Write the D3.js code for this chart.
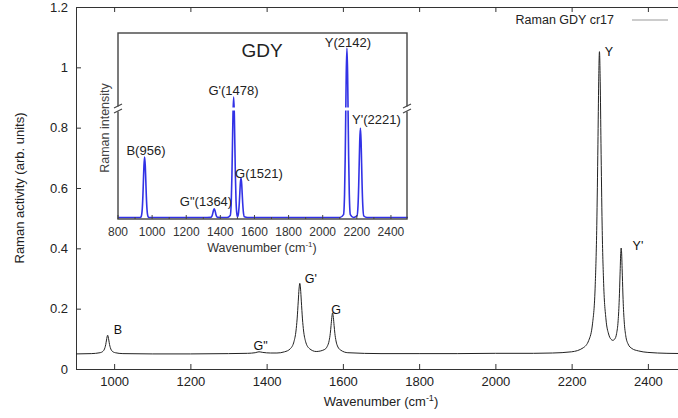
<!DOCTYPE html>
<html>
<head>
<meta charset="utf-8">
<script src="https://cdn.jsdelivr.net/npm/d3@7"></script>
<style>
  body { margin: 0; background: #fff; }
  svg { display: block; font-family: "Liberation Sans", Arial, sans-serif; }
</style>
</head>
<body>
<div id="chart"></div>
<script>
// main spectrum: [wavenumber, activity]
var mainSpectrum = [
    [900,0.050],[940,0.051],[963,0.054],[971,0.059],[976,0.071],[978,0.081],[980,0.096],[983,0.112],
    [986,0.096],[988,0.081],[990,0.071],[995,0.059],[1003,0.054],[1023,0.051],[1100,0.050],[1200,0.050],
    [1300,0.051],[1350,0.052],[1370,0.054],[1380,0.057],[1390,0.055],[1410,0.053],[1427,0.053],[1447,0.057],
    [1462,0.067],[1472,0.092],[1477,0.126],[1480,0.166],[1483,0.225],[1485,0.265],[1487,0.284],[1489,0.265],
    [1491,0.225],[1494,0.166],[1497,0.126],[1502,0.092],[1512,0.068],[1530,0.058],[1551,0.064],[1559,0.075],
    [1564,0.094],[1567,0.118],[1569,0.144],[1571,0.171],[1573,0.186],[1575,0.171],[1577,0.144],[1579,0.118],
    [1582,0.093],[1587,0.073],[1595,0.062],[1613,0.054],[1700,0.051],[1800,0.051],[1900,0.051],[2000,0.052],
    [2100,0.052],[2150,0.053],[2200,0.057],[2230,0.070],[2245,0.095],[2255,0.152],[2262,0.281],[2266,0.476],
    [2269,0.745],[2271,0.952],[2273,1.052],[2275,0.952],[2277,0.748],[2280,0.477],[2284,0.283],[2290,0.166],
    [2297,0.116],[2303,0.099],[2308,0.095],[2313,0.099],[2318,0.118],[2322,0.160],[2325,0.233],[2327,0.312],
    [2329,0.389],[2330,0.401],[2331,0.388],[2333,0.311],[2335,0.230],[2338,0.156],[2342,0.110],[2348,0.083],
    [2358,0.068],[2375,0.060],[2400,0.055],[2450,0.052],[2500,0.051]
];
var mainXTicks = [1000, 1200, 1400, 1600, 1800, 2000, 2200, 2400];
var mainYTicks = [0, 0.2, 0.4, 0.6, 0.8, 1, 1.2];
// peak labels on the main curve: [text, wavenumber, activity]
var mainPeakLabels = [
    ["B", 1010, 0.116], ["G\"", 1384, 0.063], ["G'", 1516, 0.284], ["G", 1582, 0.181],
    ["Y", 2298, 1.038], ["Y'", 2374, 0.394]
];
var legendText = "Raman GDY cr17";

// inset (GDY reference spectrum), relative intensity
var insetSpectrum = [
    [800,0],[900,0],[931,0],[936,0.006],[942,0.048],[946,0.129],[949,0.218],[952,0.303],[956,0.357],
    [960,0.303],[963,0.218],[966,0.129],[970,0.048],[976,0.006],[981,0],[1100,0],[1300,0],
    [1344,0.001],[1350,0.007],[1354,0.018],[1357,0.031],[1360,0.043],[1364,0.051],[1368,0.043],[1371,0.031],
    [1374,0.018],[1378,0.007],[1384,0.001],[1440,0],
    [1458,0.012],[1464,0.096],[1468,0.256],[1471,0.431],[1474,0.604],[1478,0.710],[1482,0.604],[1485,0.431],
    [1488,0.256],[1492,0.096],[1498,0.012],[1501,0.004],[1507,0.032],[1511,0.084],[1514,0.142],[1517,0.199],
    [1521,0.234],[1525,0.199],[1528,0.142],[1531,0.084],[1535,0.032],[1541,0.004],[1560,0],[1800,0],[2000,0],[2100,0],
    [2122,0.017],[2128,0.135],[2132,0.360],[2135,0.607],[2138,0.850],[2142,1.000],[2146,0.850],[2149,0.607],
    [2152,0.360],[2156,0.135],[2162,0.017],[2180,0],
    [2201,0.009],[2207,0.071],[2211,0.190],[2214,0.320],[2217,0.449],[2221,0.528],[2225,0.449],[2228,0.320],
    [2231,0.190],[2235,0.071],[2241,0.009],[2260,0],[2400,0],[2500,0]
];
var insetXTicks = [800, 1000, 1200, 1400, 1600, 1800, 2000, 2200, 2400];
var insetMinorTicks = [900, 1100, 1300, 1500, 1700, 1900, 2100, 2300];
// [text, wavenumber, relative intensity]
var insetPeakLabels = [
    ["B(956)", 964, 0.369], ["G\"(1364)", 1316, 0.068], ["G'(1478)", 1477, 0.720], ["G(1521)", 1626, 0.231],
    ["Y(2142)", 2148, 1.006], ["Y'(2221)", 2315, 0.549]
];

var width = 678, height = 418;

var svg = d3.select("#chart")
    .append("svg")
    .attr("width", width)
    .attr("height", height);

// main scales
var x = d3.scaleLinear().domain([900, 2500]).range([76, 686]);
var y = d3.scaleLinear().domain([0, 1.2]).range([369, 7]);

svg.append("defs").append("clipPath").attr("id", "plotclip")
    .append("rect").attr("x", 76).attr("y", 7).attr("width", 610).attr("height", 362);

// axes (ticks point inward)
var xAxis = d3.axisBottom(x).tickValues(mainXTicks).tickSizeInner(-5).tickSizeOuter(0).tickPadding(8)
    .tickFormat(d3.format("d"));
var gx = svg.append("g").attr("transform", "translate(0,369)").call(xAxis);

var xTop = d3.axisTop(x).tickValues(mainXTicks).tickSizeInner(-5).tickSizeOuter(0).tickFormat("");
var gxt = svg.append("g").attr("transform", "translate(0,7)").call(xTop);

var yAxis = d3.axisLeft(y).tickValues(mainYTicks).tickSizeInner(-5).tickSizeOuter(0).tickPadding(8)
    .tickFormat(function(d) { return String(+d.toFixed(1)); });
var gy = svg.append("g").attr("transform", "translate(76,0)").call(yAxis);

[gx, gxt, gy].forEach(function(g) {
    g.selectAll("path").attr("stroke", "#333").attr("stroke-width", 1);
    g.selectAll("line").attr("stroke", "#333");
    g.selectAll("text").attr("fill", "#222").style("font-size", "13px")
        .style("font-family", "'Liberation Sans', Arial, sans-serif");
});

// axis titles
svg.append("text")
    .attr("transform", "translate(24,188) rotate(-90)")
    .attr("text-anchor", "middle")
    .style("font-size", "13px")
    .attr("fill", "#222")
    .text("Raman activity (arb. units)");

var xt = svg.append("text")
    .attr("x", 381)
    .attr("y", 406)
    .attr("text-anchor", "middle")
    .style("font-size", "13px")
    .attr("fill", "#222");
xt.append("tspan").text("Wavenumber (cm");
xt.append("tspan").attr("dy", -5).style("font-size", "9px").text("-1");
xt.append("tspan").attr("dy", 5).text(")");

// main curve
var line = d3.line()
    .curve(d3.curveMonotoneX)
    .x(function(d) { return x(d[0]); })
    .y(function(d) { return y(d[1]); });

svg.append("path")
    .datum(mainSpectrum)
    .attr("clip-path", "url(#plotclip)")
    .attr("fill", "none")
    .attr("stroke", "#222")
    .attr("stroke-width", 1)
    .attr("d", line);

svg.selectAll(".peakLabel")
    .data(mainPeakLabels)
    .enter().append("text")
    .attr("class", "peakLabel")
    .attr("x", function(d) { return x(d[1]); })
    .attr("y", function(d) { return y(d[2]); })
    .attr("text-anchor", "middle")
    .style("font-size", "12.5px")
    .attr("fill", "#111")
    .text(function(d) { return d[0]; });

// legend
svg.append("text")
    .attr("x", 614)
    .attr("y", 24)
    .attr("text-anchor", "end")
    .style("font-size", "12.5px")
    .attr("fill", "#222")
    .text(legendText);
svg.append("line")
    .attr("x1", 632).attr("x2", 668)
    .attr("y1", 20).attr("y2", 20)
    .attr("stroke", "#999")
    .attr("stroke-width", 1);

// ---- inset ----
var inset = svg.append("g").attr("class", "inset");
inset.append("rect")
    .attr("x", 94).attr("y", 26).attr("width", 326).attr("height", 232)
    .attr("fill", "#fff");

var ix = d3.scaleLinear().domain([800, 2500]).range([118, 408]);
var iy = d3.scaleLinear().domain([0, 1]).range([217.5, 48]);

var iline = d3.line()
    .curve(d3.curveMonotoneX)
    .x(function(d) { return ix(d[0]); })
    .y(function(d) { return iy(d[1]); });

inset.append("path")
    .datum(insetSpectrum)
    .attr("fill", "none")
    .attr("stroke", "#3232e6")
    .attr("stroke-width", 1.6)
    .attr("d", iline);

// axis break band
inset.append("rect")
    .attr("x", 119).attr("y", 107.5).attr("width", 287).attr("height", 3)
    .attr("fill", "#fff");

inset.append("rect")
    .attr("x", 118).attr("y", 33).attr("width", 289).attr("height", 186)
    .attr("fill", "none")
    .attr("stroke", "#444")
    .attr("stroke-width", 1.4);

// break marks on the frame
[118, 407].forEach(function(fx) {
    inset.append("rect").attr("x", fx - 2).attr("y", 106.5).attr("width", 4).attr("height", 5).attr("fill", "#fff");
    inset.append("line").attr("x1", fx - 4).attr("y1", 108).attr("x2", fx + 4).attr("y2", 104)
        .attr("stroke", "#444").attr("stroke-width", 1.2);
    inset.append("line").attr("x1", fx - 4).attr("y1", 113).attr("x2", fx + 4).attr("y2", 109)
        .attr("stroke", "#444").attr("stroke-width", 1.2);
});

inset.selectAll(".imajor")
    .data(insetXTicks)
    .enter().append("line")
    .attr("class", "imajor")
    .attr("x1", function(d) { return ix(d); }).attr("x2", function(d) { return ix(d); })
    .attr("y1", 219).attr("y2", 215)
    .attr("stroke", "#444");
inset.selectAll(".iminor")
    .data(insetMinorTicks)
    .enter().append("line")
    .attr("class", "iminor")
    .attr("x1", function(d) { return ix(d); }).attr("x2", function(d) { return ix(d); })
    .attr("y1", 219).attr("y2", 217)
    .attr("stroke", "#444");
inset.selectAll(".itick")
    .data(insetXTicks)
    .enter().append("text")
    .attr("class", "itick")
    .attr("x", function(d) { return ix(d); })
    .attr("y", 236)
    .attr("text-anchor", "middle")
    .style("font-size", "12px")
    .attr("fill", "#333")
    .text(function(d) { return d; });

var ixt = inset.append("text")
    .attr("x", 262)
    .attr("y", 252)
    .attr("text-anchor", "middle")
    .style("font-size", "12.5px")
    .attr("fill", "#333");
ixt.append("tspan").text("Wavenumber (cm");
ixt.append("tspan").attr("dy", -5).style("font-size", "8px").text("-1");
ixt.append("tspan").attr("dy", 5).text(")");

inset.append("text")
    .attr("transform", "translate(109,128) rotate(-90)")
    .attr("text-anchor", "middle")
    .style("font-size", "12.5px")
    .attr("fill", "#444")
    .text("Raman intensity");

inset.append("text")
    .attr("x", 262)
    .attr("y", 56.5)
    .attr("text-anchor", "middle")
    .style("font-size", "19px")
    .attr("fill", "#222")
    .text("GDY");

inset.selectAll(".ipeak")
    .data(insetPeakLabels)
    .enter().append("text")
    .attr("class", "ipeak")
    .attr("x", function(d) { return ix(d[1]); })
    .attr("y", function(d) { return iy(d[2]); })
    .attr("text-anchor", "middle")
    .style("font-size", "13px")
    .attr("fill", "#222")
    .text(function(d) { return d[0]; });
</script>
</body>
</html>
